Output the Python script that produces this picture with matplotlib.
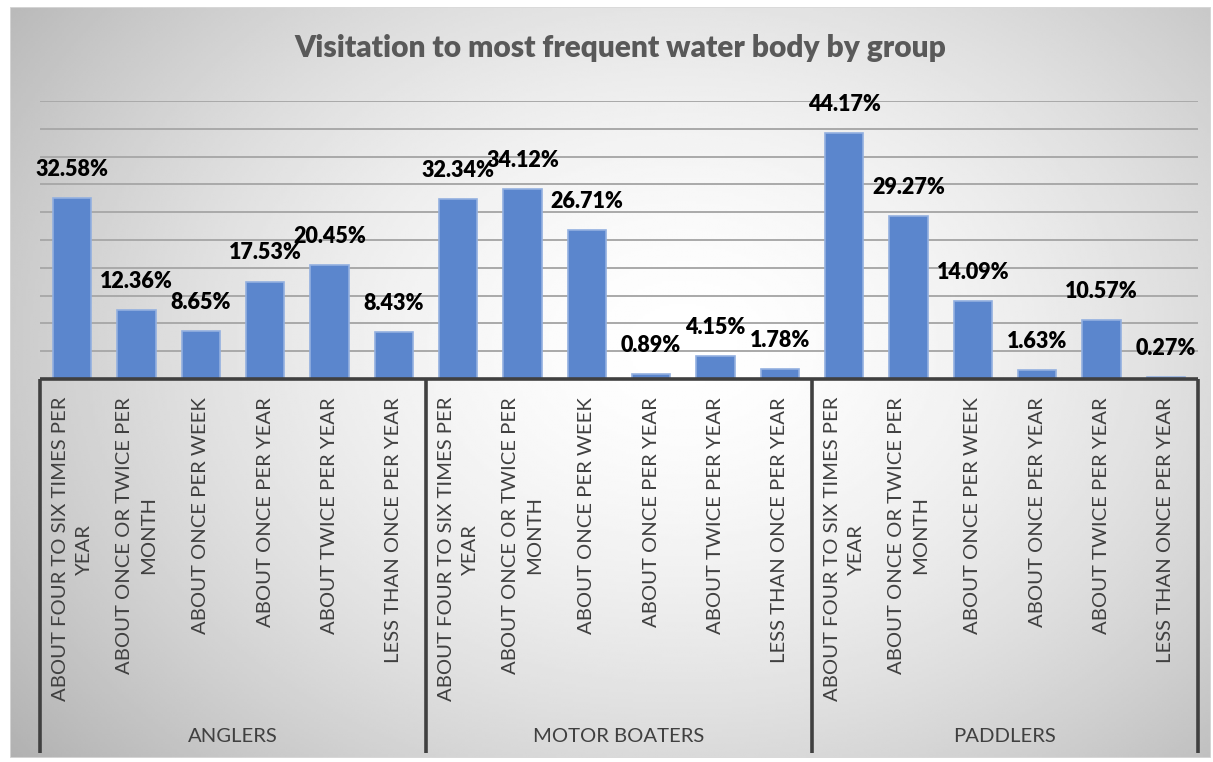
import numpy as np
import matplotlib
matplotlib.use('Agg')
import matplotlib.pyplot as plt
from matplotlib.patches import Rectangle

# Data
groups = ['ANGLERS', 'MOTOR BOATERS', 'PADDLERS']
categories = ['ABOUT FOUR TO SIX TIMES PER\nYEAR',
              'ABOUT ONCE OR TWICE PER\nMONTH',
              'ABOUT ONCE PER WEEK',
              'ABOUT ONCE PER YEAR',
              'ABOUT TWICE PER YEAR',
              'LESS THAN ONCE PER YEAR']
anglers = [32.58, 12.36, 8.65, 17.53, 20.45, 8.43]
motor_boaters = [32.34, 34.12, 26.71, 0.89, 4.15, 1.78]
paddlers = [44.17, 29.27, 14.09, 1.63, 10.57, 0.27]

values = anglers + motor_boaters + paddlers
labels = categories * len(groups)

W, H = 1213, 762
FONT = 'Lato'
plt.rcParams['font.family'] = [FONT, 'DejaVu Sans']

fig = plt.figure(figsize=(W / 100, H / 100), dpi=100)
fig.patch.set_facecolor('white')

# Background with radial gradient (chart area)
bx0, by0, bx1, by1 = 10, 7, 1211, 758
bg = fig.add_axes([bx0 / W, 1 - by1 / H, (bx1 - bx0) / W, (by1 - by0) / H])
yy, xx = np.mgrid[0:1:300j, 0:1:500j]
r = np.sqrt(((xx - 0.56) / 0.62) ** 2 + ((yy - 0.45) / 0.75) ** 2)
shade = 1.0 - 0.24 * np.clip(r, 0, 1.3) ** 1.6
bg.imshow(shade, cmap='gray', vmin=0, vmax=1, aspect='auto',
          extent=[0, 1, 0, 1], interpolation='bilinear')
bg.set_xlim(0, 1)
bg.set_ylim(0, 1)
bg.axis('off')
bg.add_patch(Rectangle((0, 0), 1, 1, fill=False, ec='#d9d9d9', lw=1.2,
                       transform=bg.transAxes))

# Main plot axes
px_left, px_right, px_base, px_top = 40, 1198, 379, 101
ax = fig.add_axes([px_left / W, 1 - px_base / H,
                   (px_right - px_left) / W, (px_base - px_top) / H])
ax.patch.set_alpha(0)
n = len(values)
x = np.arange(n)
ax.set_xlim(-0.5, n - 0.5)
ax.set_ylim(0, 50)
for s in ax.spines.values():
    s.set_visible(False)
ax.set_xticks([])
ax.set_yticks([])

for g in np.arange(5, 51, 5):
    ax.axhline(g, color='#a9a9a9', lw=1.4, zorder=1)

ax.bar(x, values, width=0.6, color='#5b86cd', edgecolor='#93b0e0',
       linewidth=1.2, zorder=2)

for xi, v in zip(x, values):
    ax.annotate(f'{v:.2f}%', (xi, v), xytext=(0, 13), textcoords='offset points',
                ha='center', va='bottom', fontsize=15.5, fontweight='heavy',
                color='black', zorder=4)

def ay(py):
    return (px_base - py) / (px_base - px_top)

xt = ax.get_xaxis_transform()
ax.plot([-0.5, n - 0.5], [0, 0], color='#404040', lw=2.6, clip_on=False,
        solid_capstyle='butt', zorder=5)
for b in np.arange(-0.5, n, len(categories)):
    ax.plot([b, b], [0, ay(753)], color='#404040', lw=2.6, clip_on=False,
            transform=xt, solid_capstyle='butt', zorder=5)

for xi, lab in zip(x, labels):
    ax.text(xi, ay(397), lab, transform=xt, rotation=90, ha='center', va='top',
            multialignment='center', fontsize=14.6, color='#404040',
            linespacing=1.5)

for gi, g in enumerate(groups):
    cx = gi * len(categories) + (len(categories) - 1) / 2
    ax.text(cx, ay(737), g, transform=xt, ha='center', va='center',
            fontsize=14.6, color='#404040')

fig.text(620 / W, 1 - 48 / H, 'Visitation to most frequent water body by group',
         ha='center', va='center', fontsize=21.5, fontweight='heavy',
         color='#595959')

fig.savefig('out.png', dpi=100)
